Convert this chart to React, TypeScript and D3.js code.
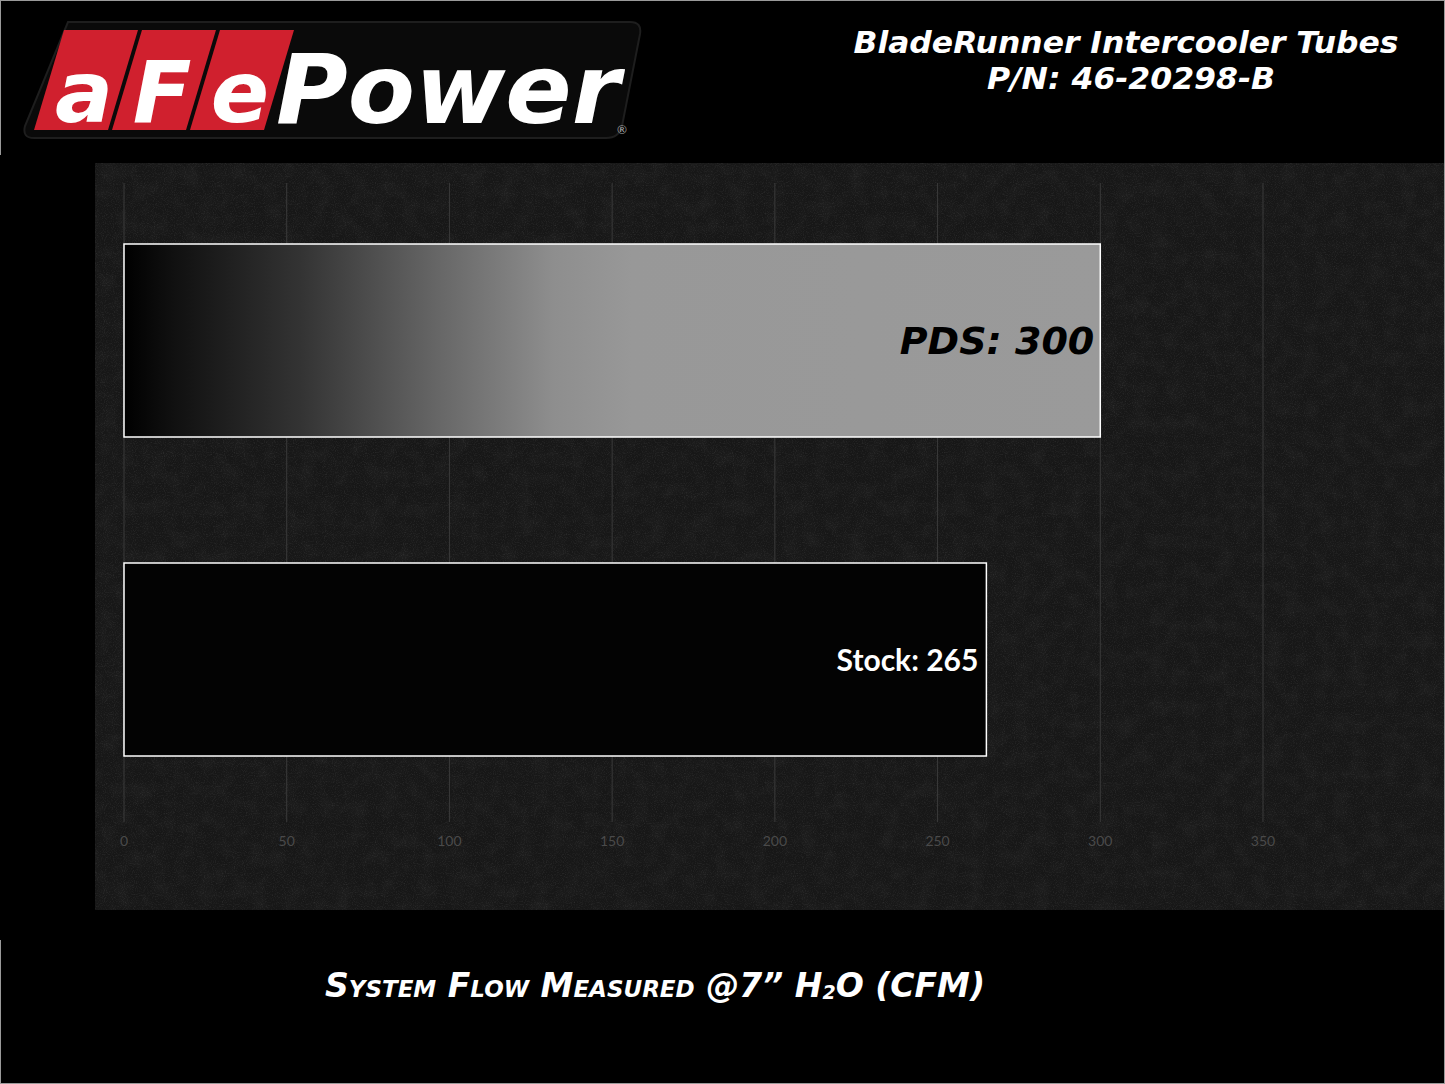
import React from "react";
import * as d3 from "d3";

const categories = ["PDS", "Stock"];
const values = [300, 265];
const labels = ["PDS: 300", "Stock: 265"];
const ticks = [0, 50, 100, 150, 200, 250, 300, 350];
const titleLines = ["BladeRunner Intercooler Tubes", "P/N: 46-20298-B"];

const W = 1445;
const H = 1084;

export default function App() {
  const x = d3.scaleLinear().domain([0, 350]).range([124, 1263]);
  const y = d3.scaleBand<string>().domain(categories).range([244, 756]).paddingInner(0.395);

  const titleFont = "'DejaVu Sans', sans-serif";

  // logo parallelograms
  const boxes = ["a", "F", "e"];
  const slant = 30;
  const boxW = 74;
  const boxTop = 30;
  const boxBot = 130;

  return (
    <div style={{ position: "absolute", left: 0, top: 0 }}>
      <svg width={W} height={H} style={{ display: "block" }}>
        <defs>
          <linearGradient id="pdsGrad" x1="0" x2="1" y1="0" y2="0">
            <stop offset="0%" stopColor="#000" />
            <stop offset="5%" stopColor="#101010" />
            <stop offset="18%" stopColor="#333" />
            <stop offset="32%" stopColor="#666" />
            <stop offset="44%" stopColor="#8e8e8e" />
            <stop offset="52%" stopColor="#989898" />
            <stop offset="100%" stopColor="#9a9a9a" />
          </linearGradient>
          <filter id="noise" x="0" y="0" width="100%" height="100%">
            <feTurbulence type="fractalNoise" baseFrequency="0.9" numOctaves="2" seed="3" result="t" />
            <feColorMatrix
              in="t"
              type="matrix"
              values="0 0 0 0 0.5  0 0 0 0 0.5  0 0 0 0 0.5  0 0 0 1.6 -0.75"
            />
          </filter>
          <filter id="blotch" x="0" y="0" width="100%" height="100%">
            <feTurbulence type="fractalNoise" baseFrequency="0.06" numOctaves="3" seed="8" result="t" />
            <feColorMatrix
              in="t"
              type="matrix"
              values="0 0 0 0 0.4  0 0 0 0 0.4  0 0 0 0 0.4  0 0 0 0.9 -0.35"
            />
          </filter>
        </defs>

        <rect x={0} y={0} width={W} height={H} fill="#000" />

        {/* chart panel */}
        <rect x={95} y={163} width={1350} height={747} fill="#171717" />
        <rect x={95} y={163} width={1350} height={747} filter="url(#blotch)" opacity={0.1} />
        <rect x={95} y={163} width={1350} height={747} filter="url(#noise)" opacity={0.16} />

        {/* gridlines */}
        {ticks.map((t) => (
          <line key={"g" + t} x1={x(t)} x2={x(t)} y1={183} y2={822} stroke="#3a3a3a" strokeWidth={1} />
        ))}

        {/* tick labels */}
        {ticks.map((t) => (
          <text
            key={"t" + t}
            x={x(t)}
            y={846}
            textAnchor="middle"
            fontFamily="Lato, 'Open Sans', sans-serif"
            fontSize={14}
            fill="#4a4a4a"
          >
            {t}
          </text>
        ))}

        {/* bars */}
        {categories.map((c, i) => (
          <rect
            key={c}
            x={x(0)}
            y={y(c)}
            width={x(values[i]) - x(0)}
            height={y.bandwidth()}
            fill={i === 0 ? "url(#pdsGrad)" : "#030303"}
            stroke="#fff"
            strokeWidth={1.5}
          />
        ))}

        {/* bar labels */}
        <text
          x={x(values[0]) - 6}
          y={(y(categories[0]) as number) + y.bandwidth() / 2 + 14}
          textAnchor="end"
          fontFamily={titleFont}
          fontWeight="bold"
          fontStyle="italic"
          fontSize={38}
          fill="#000"
        >
          {labels[0]}
        </text>
        <text
          x={x(values[1]) - 8}
          y={(y(categories[1]) as number) + y.bandwidth() / 2 + 11}
          textAnchor="end"
          fontFamily="Lato, 'Open Sans', sans-serif"
          fontWeight="bold"
          fontSize={30}
          fill="#fff"
        >
          {labels[1]}
        </text>

        {/* title */}
        <text
          x={1126}
          y={53}
          textAnchor="middle"
          fontFamily={titleFont}
          fontWeight="bold"
          fontStyle="italic"
          fontSize={30}
          fill="#fff"
          textLength={545}
          lengthAdjust="spacingAndGlyphs"
        >
          {titleLines[0]}
        </text>
        <text
          x={1131}
          y={89}
          textAnchor="middle"
          fontFamily={titleFont}
          fontWeight="bold"
          fontStyle="italic"
          fontSize={30}
          fill="#fff"
          textLength={288}
          lengthAdjust="spacingAndGlyphs"
        >
          {titleLines[1]}
        </text>

        {/* axis title */}
        <text
          x={655}
          y={997}
          textAnchor="middle"
          fontFamily={titleFont}
          fontWeight="bold"
          fontStyle="italic"
          fontSize={33}
          fill="#fff"
          style={{ fontVariant: "small-caps" }}
        >
          System Flow Measured @7” H
          <tspan fontSize={19} dy={2}>2</tspan>
          <tspan dy={-2}>O (CFM)</tspan>
        </text>

        {/* logo */}
        <path
          d={`M ${30 + slant + 8} 22 L 630 22 Q 642 22 640 34 L 622 126 Q 619 138 606 138 L 34 138 Q 22 138 25 126 Z`}
          fill="#0a0a0a"
          stroke="#1e1e1e"
          strokeWidth={2}
        />
        {boxes.map((b, i) => {
          const x0 = 34 + i * (boxW + 4);
          return (
            <g key={b}>
              <path
                d={`M ${x0 + slant} ${boxTop} L ${x0 + slant + boxW} ${boxTop} L ${x0 + boxW} ${boxBot} L ${x0} ${boxBot} Z`}
                fill="#d0202e"
              />
              <text
                x={x0 + boxW / 2 + slant / 2 - 2}
                y={122}
                textAnchor="middle"
                fontFamily={titleFont}
                fontWeight="bold"
                fontStyle="italic"
                fontSize={86}
                fill="#fff"
              >
                {b}
              </text>
            </g>
          );
        })}
        <text
          x={276}
          y={123}
          fontFamily={titleFont}
          fontWeight="bold"
          fontStyle="italic"
          fontSize={96}
          fill="#fff"
          textLength={344}
          lengthAdjust="spacingAndGlyphs"
        >
          Power
        </text>
        <text x={617} y={134} fontFamily="Lato, sans-serif" fontSize={12} fill="#aaa">
          ®
        </text>

        {/* frame */}
        <rect x={0.5} y={0.5} width={W - 1} height={H - 1} fill="none" stroke="#9a9a9a" strokeWidth={1} />
        <line x1={0.5} x2={0.5} y1={155} y2={940} stroke="#000" strokeWidth={2} />
      </svg>
    </div>
  );
}
